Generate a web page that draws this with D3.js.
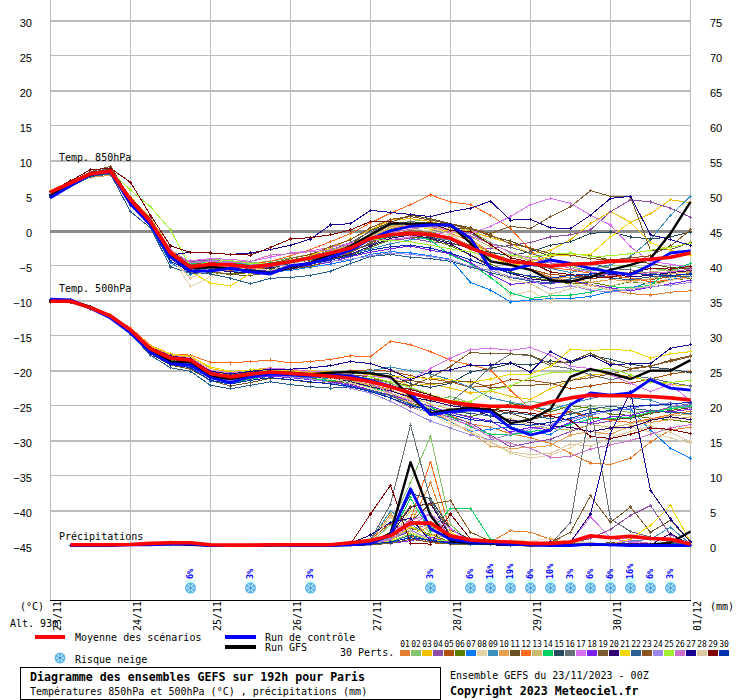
<!DOCTYPE html>
<html><head><meta charset="utf-8"><script src="https://cdn.jsdelivr.net/npm/d3@7"></script>
<style>html,body{margin:0;background:#fff}svg{display:block}text{fill:#000;font-family:"DejaVu Sans Mono",monospace}</style></head><body><div id="c"></div>
<script>
const dates=["23/11","24/11","25/11","26/11","27/11","28/11","29/11","30/11","01/12"];
const tempTicks=[30,25,20,15,10,5,0,-5,-10,-15,-20,-25,-30,-35,-40,-45];
const precipTicks=[75,70,65,60,55,50,45,40,35,30,25,20,15,10,5,0];
const memberColors=["#e67e30","#85c46c","#f0c000","#8e4ea8","#b0500a","#5a7f00","#0a7cff","#e5d4a8","#3a8fbf","#e5a050","#6a4f1f","#ff6a1f","#cdbb70","#00d060","#284a5f","#667078","#d870f0","#7a20f0","#7a5a2f","#300070","#f0d800","#2a6090","#8a5420","#9c88e8","#a0f030","#cc70cc","#1a0090","#dcc8a0","#800000","#0030b0"];
const memberLabels=["01","02","03","04","05","06","07","08","09","10","11","12","13","14","15","16","17","18","19","20","21","22","23","24","25","26","27","28","29","30"];
const snowSteps=[7,10,13,19,21,22,23,24,25,26,27,28,29,30,31];
const snowPct=[6,3,3,3,6,16,19,6,10,3,6,6,16,6,3];

const t850Mean=[5.7,7,8.3,8.7,4.6,1.5,-3,-5,-4.6,-4.7,-5,-4.7,-4.2,-3.7,-3,-2.3,-.9,-.4,-.2,-.4,-.9,-2.3,-3.3,-4.2,-4.5,-4.9,-4.6,-4.5,-4.2,-4.1,-3.9,-3.6,-3];
const t850Control=[4.9,6.6,8.2,8.6,4,1,-3.6,-5.6,-5.6,-5.2,-5.7,-6,-4.8,-4.5,-3.6,-2.6,-1,.2,.8,1,1,-.9,-5.2,-5.4,-4.7,-4,-4.5,-5.2,-5.7,-6.1,-4.7,-3,-2.7];
const t850Gfs=[5.2,6.9,8.4,8.8,4.4,1.2,-3.4,-5.2,-5,-5.2,-5.6,-5.9,-5,-4.4,-3.2,-2,-.4,1.2,1.2,1.2,1,-1.6,-4.2,-4.7,-5.4,-6.9,-7.1,-6.4,-5.4,-4.7,-3.8,-.2,4.3];
const t850=[
[5.6,6.9,8.2,8.7,4.4,1.5,-3.2,-5,-5.2,-5.5,-5.4,-5,-4.5,-4,-3.4,-2.7,-.8,.5,1,.7,-.2,-1.3,-3,-4.6,-5.4,-6.4,-7,-7.6,-8.3,-8.8,-9,-8.6,-8.4],
[5.5,7,8.3,8.8,4.7,1.7,-2.7,-4.3,-3.9,-4.1,-4.4,-4.2,-3.7,-3.2,-2.5,-1.7,-.5,.9,1.5,1.8,1.2,.2,-1.5,-3,-4.2,-3.8,-4.9,-5.6,-4.8,-4.9,-5.2,-5.5,-5],
[5.8,6.8,8.5,8.9,5,2,-2.5,-4.8,-5,-5.3,-5.7,-5.2,-4.1,-3.4,-2.3,-1,.3,1.7,1.9,1.5,.8,.1,-.8,-1.6,-3.2,-2.6,-1.1,1.2,2.9,1.4,2.6,4.6,4.2],
[5.4,7,8.4,8.5,4.5,1.3,-3.1,-4.2,-4,-4.3,-4.9,-5.1,-4.6,-3.8,-3,-2.5,-1.8,-1.2,-.9,-1.4,-1.7,-2.1,-2.4,-1.9,-1.5,-.7,-.4,.3,2.9,4.6,4.3,3.4,2.1],
[5.7,7.1,8.6,8.9,4.8,1.6,-2.9,-5.3,-4.9,-5.1,-5.4,-5.5,-5,-4.2,-3.6,-2.9,-1.6,-.4,.2,-.1,-.8,-1.9,-3.3,-4.8,-5.3,-6.1,-6.2,-6.7,-6.3,-6.6,-6.8,-6.4,-5.9],
[5.5,6.8,8.1,8.4,4.2,1,-3.6,-5.4,-5.8,-6,-5.8,-5.4,-4.9,-4.4,-3.9,-3.3,-2.2,-1.1,-.7,-1,-2,-3.3,-4.6,-5.7,-6.4,-7,-7.4,-7.2,-7.7,-7.1,-7.4,-6.9,-6.6],
[5.3,6.7,8,8.5,3.9,.8,-4.4,-6,-5.5,-5.6,-5.9,-5.7,-5.5,-5,-4.6,-4,-3.2,-2.8,-3,-3.4,-3.9,-7.2,-8.3,-10,-9.7,-9.5,-9.5,-9.2,-8.5,-8,-7.2,-6.8,-6.3],
[5.6,7.1,8.3,8.6,4.3,1.4,-3.4,-7.8,-6.4,-5.3,-5.1,-5.6,-5.2,-4.7,-3.7,-2.6,-1,-.3,.4,.2,-.5,-2.6,-5.7,-9.1,-8.4,-10,-7.3,-8.2,-7.7,-7,-7.4,-6.6,-6.1],
[5.4,6.9,8.3,8.7,4.1,1.1,-3.9,-5.7,-5.2,-5.4,-5.6,-5.5,-4.9,-4.3,-3.7,-3.1,-2.4,-1.7,-1.1,-.8,-1.2,-2.3,-3.6,-4.2,-4.8,-5.2,-5.8,-5.2,-4.7,-3.5,-1.1,2.4,5.1],
[5.7,7.1,7.8,8.1,4.6,1.8,-3,-5.1,-4.6,-4.5,-4.7,-4.9,-4.4,-3.9,-3.2,-2.1,-.3,.8,1.1,1,.3,-1,-2.9,-4.3,-5.5,-6.6,-6.5,-7.2,-6.8,-7,-6.7,-6,-5.6],
[5.6,7,8.5,9,4.9,1.9,-2.8,-4.6,-4.5,-4.6,-4.9,-5.3,-4.8,-4.3,-3.1,-1.8,.2,1.4,2.4,1.9,1.2,.6,-.6,-1.3,-2.4,-3.5,-3.1,-3.4,-4,-4.1,-4.5,-5.1,-5.2],
[5.9,7.2,8.4,8.6,4.7,1.6,-2.6,-5.2,-4.8,-4.7,-4.6,-4.2,-3.4,-2.5,-1.4,-.2,1.3,2.7,3.9,5.3,4.3,3.9,2.4,.5,-2.6,-5.1,-5.4,-5.9,-6.2,-6.6,-7.1,-6.9,-6.3],
[5.5,6.9,8.2,8.8,4.4,1.3,-3.3,-5,-4.7,-4.8,-5.1,-5.1,-4.4,-3.7,-2.9,-2.2,-.6,.6,1.2,.9,.4,-.7,-2.1,-3.4,-4,-4.4,-4.8,-5.1,-5.6,-5.9,-5.7,-5.4,-5.8],
[5.8,7,8.2,8.7,4.2,1,-3.7,-4.5,-4.3,-4.4,-4.7,-4.4,-4,-3.5,-2.8,-2.1,-1.3,-.7,-.3,-1.2,-3.3,-4.5,-6.5,-8.7,-9.5,-9.1,-9,-8.6,-7.8,-8,-7.6,-5.4,-4.5],
[5.2,6.7,8.2,8.6,4,.9,-3.9,-5.5,-5.1,-5.3,-5.5,-5.2,-4.5,-4,-3.3,-2.7,-1.8,-.6,-.1,-.7,-1.5,-2.4,-2.9,-3.4,-2.8,-1.9,-1.4,-.2,0,-.7,-1,-.7,0],
[5.6,6.9,8.4,9.2,4.5,1.3,-3.2,-4.9,-4.5,-4.7,-5,-5,-4.2,-3.5,-2.6,-1.5,.1,1.1,1.5,1.2,.7,-.2,-1.7,-2.2,-3,-4,-4.8,-4.4,-5.2,-5.4,-5.9,-6.2,-6.5],
[5.5,6.8,8.2,8.5,4.3,1.2,-3.5,-4.1,-3.8,-3.9,-4.2,-3.6,-3,-2.7,-2.2,-1.6,-1.2,-1.1,-.7,-.4,0,-.2,.8,2.2,3.9,4.8,4.1,2.4,1,-2.1,-4.2,-4.6,-5],
[5.4,6.9,8.3,8.7,4.6,1.7,-3.1,-5.5,-5.4,-5,-5.2,-5.6,-5.1,-4.8,-4.3,-3.5,-2.9,-2.4,-2,-2.6,-3.1,-4.4,-6,-7.5,-7.2,-7.4,-6.9,-7.5,-8,-8.4,-7.9,-7.4,-6.9],
[5.6,7.1,8.6,9.4,4.8,1.4,-3.3,-5.8,-5.6,-6.1,-6.2,-5.8,-5.3,-4.9,-4,-3,-1.5,-.1,.9,1.4,.6,.5,-.2,.8,.5,2.2,3.6,5.9,5.1,5,-2.6,-2.5,-1.5],
[5.7,7,8.2,8.6,4.1,1.2,-3.8,-5.9,-5.3,-5.7,-5.8,-5.1,-5.3,-4.6,-3.8,-3.2,-2,-.9,-.4,-.9,-1.7,-3.3,-4.9,-5.9,-6.7,-7,-7.2,-6.5,-6,-6.4,-6.2,-5.8,-5.5],
[5.9,7,8.3,8.9,4.7,1.7,-2.9,-5.7,-7.3,-7.7,-5.9,-5.8,-5.1,-4.4,-3.6,-2.4,-.8,.4,.9,.4,.2,-1.1,-3.5,-4.8,-4.3,-3.4,-3.3,-3.2,-.7,1.4,-1.5,-2.6,-3.3],
[5,6.5,7.9,8.3,2.9,.6,-5,-5.9,-6,-6.6,-7.4,-6.6,-6.5,-6.2,-5.6,-4.5,-3.5,-3.2,-3.6,-3.8,-4.2,-5,-5.8,-6.5,-7,-7.3,-6.7,-6.1,-6.6,-6.8,-6.4,-6.3,-6.4],
[5.6,7,8.3,8.5,4.5,1.4,-3,-4.7,-4.4,-4.5,-4.8,-4.5,-3.8,-3.2,-2.1,-1.1,.6,1.8,2.2,1.7,1.1,.4,-.4,-1.7,-2.3,-3.1,-3.3,-3.8,-4,-3.7,-3.4,-2,.3],
[5.5,6.8,8.1,8.6,4.4,1.3,-3.4,-4.4,-4.1,-4.2,-4.6,-4.8,-4.8,-4.5,-4.2,-3.9,-3.4,-3,-3.2,-3.5,-4,-4.9,-5.5,-6.4,-6.8,-8.1,-7.7,-8.3,-8.6,-8.2,-7.8,-7.6,-7.2],
[5.7,6.9,8.2,8.7,6,3.6,.3,-5,-4.2,-4.1,-4.5,-4.6,-4,-3.6,-2.7,-1.9,-1.1,-1.2,-1.4,-1.9,-2.4,-2.8,-3.7,-3.3,-3.6,-3.2,-3,-3.5,-3.4,-3.1,-2.6,-2.2,-1.6],
[5.6,7.1,8.5,8.8,4.7,1.8,-2.5,-4.4,-4.2,-4.4,-4.2,-3.3,-3.1,-2.8,-2.6,-1.7,-.9,-.1,.4,.8,.2,-.6,-1.6,-2.9,-3.8,-4.4,-5.2,-5.7,-6.2,-6.1,-5.8,-5.7,-5.3],
[5.4,6.9,8.2,8.6,4.4,1.5,-3.3,-2.9,-3,-3.2,-3,-2.5,-1.9,-1,1,1.2,3.1,2.8,2.5,2.2,2.9,3.4,4.4,1.7,1.8,.6,.5,2.4,4.8,5.1,-.4,-1.1,-1.9],
[5.6,7,8.2,8.7,4.1,1.1,-3.7,-6.6,-5.1,-4.8,-5.2,-5.5,-4.6,-3.9,-2.9,-1.9,-.7,.3,.7,.6,-.3,-2.2,-5,-6.8,-7.4,-8.9,-8.1,-7.5,-8.3,-8.1,-7.7,-6.9,-6.5],
[5.8,7.3,8.9,9.1,7.1,2.4,-2,-2.9,-3,-3.2,-3.3,-2.2,-1,-.8,-.4,.3,1.5,1.5,1,1.3,.2,.1,-1.8,-3.7,-4.3,-5.7,-6.1,-6.4,-6.5,-5.8,-5.2,-5.3,-4.9],
[5.1,6.6,8.1,8.5,3.8,.9,-4.2,-5.6,-5.4,-5.2,-5.4,-5.7,-5,-4.6,-4,-3.4,-2.6,-2.1,-1.9,-2.3,-3,-4,-5,-5.9,-6.3,-6.6,-6.2,-6,-5.9,-5.9,-6.1,-6.2,-6]
];

const t500Mean=[-9.9,-9.9,-10.8,-12,-14,-16.7,-18,-18.3,-20.2,-20.7,-20.3,-20,-20.2,-20.4,-20.6,-20.9,-21.4,-22.1,-23,-23.7,-24.3,-24.7,-24.9,-24.9,-25.1,-24.3,-23.7,-23.3,-23.4,-23.4,-23.5,-23.7,-24];
const t500Control=[-9.6,-9.7,-10.9,-12.3,-14.4,-17.2,-18.8,-19,-20.8,-21.5,-20.7,-20.3,-20.4,-20.6,-20.5,-20.6,-21.2,-22,-23,-26.1,-25.7,-25.4,-25.7,-28,-29,-28.3,-24.7,-23,-23.3,-23,-21.1,-22.3,-22.6];
const t500Gfs=[-9.8,-9.8,-10.7,-12.1,-14.2,-17,-18.5,-18.6,-20.6,-21,-20.5,-20.2,-20.1,-20.3,-20.1,-20,-20.2,-20.7,-23.5,-25.9,-25.4,-25.2,-25.4,-27.3,-26.8,-25.3,-20.7,-19.6,-20.2,-21,-19.8,-19.8,-18.3];
const t500=[
[-9.9,-10,-10.9,-12,-14,-16.6,-17.8,-18.2,-20,-20.4,-20.1,-19.8,-20.2,-20.5,-20.9,-21.3,-21.8,-22.5,-23.8,-25,-26.2,-27.4,-27.9,-28.8,-29.4,-30.2,-31.6,-33,-33.2,-32.3,-30,-28.3,-27.9],
[-9.8,-9.9,-10.7,-11.9,-13.8,-16.5,-17.6,-18,-19.9,-20.4,-19.9,-19.6,-19.7,-19.9,-20.1,-20.5,-21,-21.6,-22.8,-24.2,-23.5,-24.4,-25.5,-24.8,-24.2,-24.6,-25.4,-24.9,-25.3,-25.8,-25.6,-25.2,-24.8],
[-9.9,-10,-10.9,-12,-13.9,-16.4,-17.5,-17.7,-19.5,-20,-20,-19.9,-19.7,-19.8,-20,-20.1,-20.4,-20.9,-22,-21.7,-22.3,-23,-22.7,-23.5,-23.9,-22.4,-21.2,-20.4,-20.2,-20.7,-21.3,-21.8,-22],
[-9.8,-9.9,-10.8,-12,-14.1,-16.8,-18,-18.5,-20.4,-21.1,-20.6,-20.1,-20.5,-20.9,-21.3,-21.7,-22.6,-23.7,-25,-25.9,-26.4,-27.3,-29,-30.7,-30.1,-29.6,-28.5,-27.5,-27,-26.4,-25.8,-25,-24.5],
[-10,-10.1,-10.8,-12.2,-14.3,-17,-18.3,-18.7,-20.1,-20.7,-20.4,-20,-20.2,-20.5,-20.3,-19.8,-19.7,-19.9,-20.5,-21,-21.4,-22.2,-21.9,-21.1,-21.2,-21.6,-22.4,-22,-21.5,-21.6,-21,-20.3,-19.9],
[-9.7,-9.9,-10.7,-12.1,-14.2,-17,-18.4,-18.8,-20.5,-20.9,-20.7,-20.4,-20.6,-20.9,-21.2,-21.6,-22.2,-23,-24.4,-25.3,-25.8,-26.4,-25.6,-24.5,-24.9,-25.7,-24.8,-25.2,-26,-26.2,-26.6,-26.8,-27.2],
[-9.6,-9.7,-10.6,-12,-14.3,-17.4,-19,-19.3,-21.3,-21.7,-21,-20.5,-20.7,-21,-21.4,-22,-22.7,-23.4,-24.7,-25.9,-27.1,-28.5,-28.2,-27.8,-28.7,-28.9,-27.2,-26.2,-25.5,-25.3,-28.3,-30.9,-32.3],
[-9.9,-9.9,-10.8,-12,-14,-16.6,-17.9,-18.3,-20.3,-20.9,-20.4,-20.1,-20.4,-20.7,-21.1,-21.6,-22.3,-23.5,-24.8,-26,-27.5,-28.2,-30,-31.6,-32.3,-31.9,-30.8,-29.4,-28.2,-27.8,-28.6,-29.4,-30.2],
[-9.8,-9.9,-10.7,-12,-14.1,-16.9,-18.1,-18.6,-20.5,-21,-20.5,-20.3,-20.6,-20.8,-20.9,-20.4,-19.8,-19.3,-19.8,-20.3,-21.1,-22.2,-23.7,-24.3,-24.9,-25.4,-24.5,-23.8,-23.2,-23.7,-24,-25,-24.7],
[-10,-10,-10.9,-12.1,-14,-16.4,-17.6,-17.9,-19.8,-20.2,-19.7,-19.4,-19.7,-20,-20.4,-21,-22,-23.3,-24.4,-25.7,-27,-28.7,-30.6,-30.9,-30.8,-30.5,-29,-28.5,-28.9,-27.7,-27.2,-26.8,-26.4],
[-9.9,-10,-10.8,-12,-14,-16.7,-18,-18.4,-20.2,-20.6,-20.1,-19.8,-20,-20.2,-20.5,-20.7,-21.3,-22,-23.2,-23.8,-24.5,-25.1,-25.4,-25.9,-26.8,-26.2,-25.6,-26.4,-26.8,-26.6,-25.9,-25.5,-25.1],
[-9.8,-9.9,-10.7,-11.9,-13.7,-16.2,-17.4,-17.6,-18.6,-18.7,-18.5,-18.3,-18.7,-18.5,-18.2,-17.7,-17.8,-15.6,-16.1,-17.1,-18.3,-19,-19.7,-22.6,-25.3,-26.1,-25.8,-26.4,-26.9,-27.2,-26.7,-26.1,-25.6],
[-9.9,-9.9,-10.8,-12.1,-14.1,-16.8,-18.1,-18.5,-20.4,-20.8,-20.3,-20.1,-20.2,-20.5,-20.8,-21.3,-21.9,-22.6,-23.5,-24.6,-25.3,-25.9,-26.3,-26.7,-27.6,-28.1,-28.3,-27.5,-27.9,-27.4,-26.8,-26.3,-26],
[-9.7,-9.8,-10.8,-12.1,-14.3,-17.2,-18.9,-19.1,-20.9,-21.6,-21,-20.6,-20.8,-21,-21.2,-21.5,-22.2,-23,-24,-25,-26.4,-27.8,-28.9,-29,-28.5,-28.2,-27.5,-26.7,-26.6,-26.5,-25.7,-25.3,-24.9],
[-9.8,-9.9,-10.8,-12,-14.1,-16.8,-18,-18.4,-20.1,-20.5,-20,-19.8,-20,-20.3,-20.4,-20.3,-20.1,-20.3,-21.7,-22.2,-21.6,-20,-19.5,-18.8,-19,-18.4,-18.7,-17.6,-18.2,-18.9,-19.3,-19.6,-20.1],
[-9.9,-10,-10.9,-12.1,-14,-16.5,-17.8,-18.1,-20,-20.5,-20.1,-19.9,-20.1,-20.4,-20.6,-21,-21.4,-22.2,-22.4,-23.2,-24.3,-22,-19.3,-17.4,-17.7,-19.1,-19.5,-20.4,-21.1,-20.5,-20.9,-21.5,-22],
[-9.9,-10,-10.8,-12,-13.9,-16.5,-17.7,-18,-19.8,-20.1,-19.8,-19.5,-19.6,-19.9,-20.1,-20.4,-20.6,-20.9,-21.1,-19.5,-18,-16.8,-16.6,-16.9,-16.5,-17.6,-19.2,-19.5,-20.4,-21.6,-22.8,-21.7,-24.2],
[-9.8,-9.9,-10.7,-12,-14.3,-17.1,-18.6,-19,-20.9,-21.4,-20.9,-20.6,-20.8,-21.1,-21.4,-21.9,-22.6,-23.3,-24.1,-24.9,-25.8,-26.5,-27,-28.6,-27.9,-28.3,-27.2,-27.3,-26.4,-26.2,-25.5,-25.7,-25.3],
[-10,-10.1,-11,-12.3,-14.5,-17.4,-19,-19.6,-21.2,-22,-21.5,-20.9,-21.1,-21.5,-21.4,-21.2,-21,-21.4,-22,-20.8,-19.2,-17.2,-17.4,-17.4,-17.6,-18.8,-18.5,-17.3,-18.7,-19.5,-19.1,-18.5,-17.8],
[-9.9,-10,-10.8,-12,-14,-16.6,-17.9,-18.4,-20.3,-20.7,-20.2,-20,-20.3,-20.6,-20.9,-21.4,-22.1,-22.7,-23.6,-24.1,-24.8,-25.2,-26.3,-26.9,-27.2,-27.7,-27.9,-28.5,-28,-27.9,-26.9,-26.4,-26.8],
[-9.8,-9.9,-10.7,-11.8,-13.8,-16.3,-17.4,-17.8,-19.3,-19.9,-19.7,-19.7,-19.9,-20.1,-20,-20.1,-20.3,-20.6,-20.8,-20.9,-21.1,-21.5,-21,-20.3,-20.3,-19.2,-16.8,-16.9,-16.8,-16.9,-18,-17.4,-17.1],
[-9.7,-9.8,-10.9,-12.3,-14.6,-17.6,-19.4,-19.9,-21.9,-22.4,-21.9,-21.4,-21.8,-22.1,-22.3,-22.2,-22.6,-23.4,-24.6,-25.5,-25.7,-25.9,-26.3,-25.8,-26.1,-26.7,-26,-25.3,-24.9,-25.2,-25.5,-25.8,-25.9],
[-9.9,-10,-10.9,-12.1,-14,-16.7,-18,-18.5,-20.1,-20.5,-20.1,-19.9,-20.1,-20.3,-20.4,-20.4,-20.7,-21.5,-21.2,-21.7,-21.5,-21.3,-22.3,-22,-21.9,-21.7,-21.2,-20.8,-20.3,-19.6,-19.2,-18.3,-17.7],
[-9.9,-9.9,-10.8,-12,-14,-16.8,-18.2,-18.7,-20.7,-21.2,-20.7,-20.4,-20.7,-21,-21.5,-22.3,-23,-24.2,-25.6,-27,-28,-29,-29.7,-28.9,-28.2,-27.5,-26.8,-26.1,-25.6,-25.2,-24.7,-24.4,-25.2],
[-9.8,-9.9,-10.8,-12,-14.2,-17,-18.3,-18.8,-20.2,-20.3,-19.8,-19.7,-20,-20.5,-20.8,-20.8,-20.7,-21.4,-22.2,-23.2,-24.1,-24.2,-22.6,-22,-20.8,-20.1,-20,-19.7,-19.5,-20.4,-21.5,-21.5,-21.2],
[-9.9,-10,-10.9,-12.1,-14.1,-16.7,-18,-18.3,-20.4,-20.9,-20.3,-20.1,-20.4,-20.6,-20.7,-20.9,-21.6,-23,-24.1,-25.2,-26.7,-27.6,-29.3,-30.2,-30.9,-32.2,-32.1,-31,-30.4,-29.8,-28.9,-28,-27.5],
[-9.8,-9.9,-10.8,-11.9,-13.9,-16.5,-17.7,-18.1,-19.9,-20.3,-19.9,-19.6,-19.6,-19.4,-19.1,-18.5,-18.8,-19.7,-21.1,-20,-19.7,-19,-19,-18.7,-20,-17.1,-18.5,-17.6,-19,-18.8,-18.8,-16.6,-16.1],
[-9.9,-10,-10.9,-12,-14,-16.7,-18,-18.5,-20.2,-20.6,-20.2,-20,-20.2,-20.5,-20.9,-21.5,-22.3,-23.1,-23.9,-25.2,-27,-28.6,-30,-31.4,-31.8,-31.6,-30.3,-30.6,-29.4,-28.5,-27.7,-28.6,-30],
[-9.9,-10,-10.8,-12.1,-14.2,-16.9,-18.2,-18.4,-20.3,-20.6,-20.2,-20,-20.1,-20.4,-20.8,-21,-21.3,-22,-22.5,-23.3,-24.2,-25,-25.3,-25.6,-25.9,-26.3,-26.9,-29.2,-29.5,-28.9,-28,-28.2,-28.8],
[-9.7,-9.8,-10.7,-12.1,-14.4,-17.3,-18.9,-19.4,-21.2,-21.7,-21.2,-20.8,-21.1,-21.4,-21.7,-22.1,-22.8,-23.7,-24.8,-25.4,-26.1,-26.8,-27.1,-27.5,-27.6,-27.2,-26.6,-25.8,-25.5,-24.9,-24.8,-24.6,-24.3]
];

const precipMean=[.1,.1,.1,.15,.3,.4,.4,.1,.05,.05,.1,.1,.1,.1,.4,.7,1.4,3.2,3.2,1.4,.8,.6,.5,.3,.3,.5,1.4,1.1,1.3,1,.9,.2];
const precipControl=[0,0,0,.1,.1,.2,.2,0,0,0,.1,0,0,0,.1,.3,1.5,8.1,2.4,.9,.5,.4,.2,.1,0,0,.2,.1,0,0,0,0];
const precipGfs=[0,0,.1,.1,.1,.2,.1,0,0,0,0,.1,0,0,.1,.2,1.7,11.9,4.3,.6,.4,.3,.2,0,.1,.1,.1,.1,.1,.1,.4,2];
const precip=[
[0,0,0,.1,.2,.4,.3,.1,0,0,0,0,0,0,.1,.3,1.3,3,9,.8,.5,.5,2.1,1.9,.9,.2,.3,.2,.3,.3,.2,.1],
[0,0,0,.1,.1,.3,.2,0,0,0,0,0,0,0,.2,.4,3,9,15.6,3,.4,.3,.2,.1,0,0,0,.1,.1,0,0,0],
[0,.1,.1,.1,.2,.2,.3,0,0,.1,.1,0,0,0,.1,.5,1.1,3.8,1.2,.6,.3,.1,.1,0,0,.2,.1,.1,.3,.2,.1,0],
[0,0,0,0,.1,.2,.2,.1,0,0,0,0,.1,0,0,.1,.8,2.1,3.2,1,.3,.2,.1,.1,0,.3,1,2.3,4.3,5.7,1.5,.2],
[0,0,0,.1,.3,.6,.4,.1,0,0,0,0,0,0,.3,.9,3.2,1.4,.4,.2,.1,.1,0,0,0,0,0,.1,0,.1,.2,0],
[0,0,0,.1,.2,.3,.4,0,0,0,.1,.1,0,0,.1,.2,.7,2.5,1.6,.5,.8,.8,.4,.1,0,0,.1,0,.1,.1,.1,0],
[0,0,.1,.1,.1,.1,.1,0,0,0,0,0,0,0,.1,.1,.4,1.2,.7,.3,.2,.1,0,.1,0,0,.1,.1,.2,.2,.3,0],
[0,0,0,0,.1,.2,.2,.1,0,0,0,0,0,0,.5,1,4,1.2,.4,.5,.6,.6,.8,.6,1.1,.5,.4,.2,.1,.2,.1,0],
[0,0,0,.1,.1,.3,.2,0,0,0,0,0,0,.1,.4,.8,4.9,3.1,1.2,.3,.2,.2,.1,0,0,.1,.1,.2,.6,.9,2.6,.2],
[0,.1,.1,.2,.3,.5,.4,.1,0,0,0,0,0,0,.2,.6,4.5,1.5,2.8,1.1,.5,.3,.2,.1,.1,.1,0,0,0,.1,.1,0],
[0,0,0,.1,.2,.3,.3,0,0,0,0,.1,.1,0,0,.2,.9,3.4,6,2.2,.9,.3,.1,0,0,0,.2,.4,.2,.1,.1,0],
[0,0,.1,.1,.2,.3,.2,.1,0,0,0,0,0,0,.1,.2,.9,3.8,11.9,1.9,.4,.3,.3,.2,.1,0,0,0,.1,0,.1,.1],
[0,0,0,.1,.1,.2,.2,0,0,0,0,0,0,0,.1,.3,1,5,1.7,.9,.4,.2,.1,.1,.2,.3,.2,.1,0,.1,.1,0],
[0,0,0,0,.1,.2,.1,0,0,.1,0,0,0,0,.1,.2,1.2,6.8,2,5.3,5.3,.9,.4,.2,.1,0,0,.1,.1,.2,.1,0],
[0,0,.1,.1,.2,.3,.2,0,0,0,0,0,0,0,.2,.5,1.6,7.4,6.7,2.4,.7,.3,.2,.1,0,0,.1,.1,.1,.2,.3,.1],
[0,0,0,.1,.1,.2,.2,0,0,0,0,0,0,0,.2,.8,5.9,17.2,6.5,1.5,.4,.2,.2,.1,.2,3.3,20,3.8,2,1.2,.5,.1],
[0,0,0,.1,.2,.4,.3,.1,0,0,0,0,0,0,.1,.3,1.8,3.6,4.5,2.4,.5,.3,.1,0,0,.5,4.1,1.1,.4,.3,.2,.1],
[0,.1,.1,.1,.1,.2,.2,0,0,0,0,0,0,0,0,.1,.3,.7,1.2,.4,.2,.1,.1,0,0,.1,.1,.1,.3,.2,.1,0],
[0,0,0,.1,.1,.3,.2,0,0,0,0,0,0,0,.1,.1,.3,.9,.5,.2,.1,.1,.1,.2,.4,1.9,7.1,3.3,5.5,1.9,3.6,.5],
[0,0,0,.1,.2,.3,.3,0,0,0,.1,0,0,0,.1,.4,1.4,5.5,6,1.3,.5,.3,.2,.1,0,0,.1,0,0,.1,1.7,.1],
[0,0,.1,.1,.2,.2,.2,0,0,0,0,0,0,0,.1,.3,.6,2.7,1.4,1.9,.5,.3,.2,.1,0,.1,.1,.2,.9,2.9,5.7,.5],
[0,0,0,.1,.1,.2,.1,0,0,0,0,0,0,.1,.1,.2,.5,1.5,.7,.3,.2,.1,0,0,.1,.1,.2,.2,.1,.2,.3,.1],
[0,0,0,.1,.2,.3,.3,.1,0,0,0,0,0,0,.2,.5,1.9,5.6,5.9,6.4,1.9,.6,.3,.1,0,0,0,.1,.1,.1,.1,0],
[0,0,0,0,.1,.2,.1,0,0,0,0,0,.1,0,.1,.3,1,2.2,.9,.6,.3,.1,.1,0,0,.1,.1,.1,.2,.1,.1,0],
[0,.1,.1,.1,.2,.3,.2,0,0,0,0,0,0,0,.1,.2,.6,1.7,.8,.7,.4,.2,.1,.1,.1,0,.1,.1,.1,.1,.2,0],
[0,0,0,.1,.1,.2,.2,.1,0,0,0,0,0,0,.1,.3,.8,2.9,4.5,1.4,.6,.4,.2,.1,0,0,.3,.2,.7,.3,.2,.1],
[0,0,0,.1,.1,.3,.2,0,0,0,0,0,0,0,.3,1.5,3.3,3.9,.7,.4,.2,.1,0,0,.5,.5,4.5,16,22,7.9,3.8,.5],
[0,0,0,.1,.1,.2,.2,0,0,0,0,.1,0,0,.1,.2,4.1,2,.8,.3,.2,.2,.5,.2,.3,.7,.4,.2,.1,.1,.2,0],
[0,0,.1,.1,.2,.3,.2,.1,0,0,0,0,0,0,.2,4.5,8.6,.3,.2,4.5,.9,.3,.1,.1,0,0,.1,.1,.1,.1,.1,0],
[0,0,0,.1,.1,.2,.2,0,0,0,0,0,0,0,.1,.2,.5,1.1,.8,.3,.2,.1,.1,0,0,0,.1,.1,.1,.1,.1,0]
];

const W=740,H=700;
const x=d3.scaleLinear().domain([0,32]).range([50,690]);
const y=d3.scaleLinear().domain([30,-45]).range([22,547]);
const yP=d3.scaleLinear().domain([75,0]).range([20.5,545.5]);
const svg=d3.select("#c").append("svg").attr("width",W).attr("height",H);
const gridColor="#bcbcbc";

// grid
const grid=svg.append("g").attr("shape-rendering","crispEdges");
d3.range(0,33,4).forEach(i=>grid.append("line").attr("x1",x(i)+.5).attr("x2",x(i)+.5).attr("y1",0).attr("y2",600).attr("stroke",gridColor));
tempTicks.forEach(t=>{
  if(t===-45)return;
  const thick=t%10===0;
  const yy=y(t)-(thick?1:1.5);
  grid.append("line").attr("x1",50).attr("x2",691).attr("y1",yy).attr("y2",yy)
    .attr("stroke",t===0?"#8c8c8c":gridColor).attr("stroke-width",t===0?3:(thick?2:1));
});
grid.append("line").attr("x1",50).attr("x2",691).attr("y1",600.5).attr("y2",600.5).attr("stroke","#000");

// axes
function styleAxis(g){g.select(".domain").remove();g.selectAll("text").attr("dy",4).style("font-family","'Liberation Sans',Arial,sans-serif").style("font-size","11px").attr("fill","#000");}
svg.append("g").attr("transform","translate(32,0)").call(d3.axisLeft(y).tickValues(tempTicks).tickSize(0).tickPadding(0).tickFormat(d3.format("d"))).call(styleAxis);
const yLab=y.copy().domain([75,0]);
svg.append("g").attr("transform","translate(710,0)").call(d3.axisRight(yLab).tickValues(precipTicks).tickSize(0).tickPadding(0).tickFormat(d3.format("d"))).call(styleAxis);

// lines
const lineT=d3.line().x((d,i)=>x(i)+.5).y(d=>y(d));
const lineP=d3.line().x((d,i)=>x(i+1)+.5).y(d=>yP(d));
const marks=svg.append("g");
function drawSeries(data,line,col,w,xi){
  marks.append("path").attr("d",line(data)).attr("fill","none").attr("stroke",col).attr("stroke-width",w).attr("stroke-linejoin","round").attr("shape-rendering",w===1?"crispEdges":"auto");
  if(w===1){
    const s=d3.symbol().type(d3.symbolCross).size(6)();
    marks.append("g").selectAll("path").data(data).join("path").attr("d",s).attr("fill",col).attr("shape-rendering","crispEdges")
      .attr("transform",(d,i)=>`translate(${xi(i)},${line===lineT?y(d):yP(d)})`);
  }
}
const xiT=i=>x(i)+.5, xiP=i=>x(i+1)+.5;
t850.forEach((s,m)=>drawSeries(s,lineT,memberColors[m],1,xiT));
t500.forEach((s,m)=>drawSeries(s,lineT,memberColors[m],1,xiT));
precip.forEach((s,m)=>drawSeries(s,lineP,memberColors[m],1,xiP));
[[t850Gfs,lineT],[t500Gfs,lineT],[precipGfs,lineP]].forEach(a=>drawSeries(a[0],a[1],"#000",2.4,null));
[[t850Control,lineT],[t500Control,lineT],[precipControl,lineP]].forEach(a=>drawSeries(a[0],a[1],"#0000ff",2.8,null));
[[t850Mean,lineT],[t500Mean,lineT],[precipMean,lineP]].forEach(a=>drawSeries(a[0],a[1],"#ff0000",3.6,null));

// snow
function flake(g,cx,cy){
  g.append("circle").attr("cx",cx).attr("cy",cy).attr("r",5.5).attr("fill","#62b6e6");
  [0,60,120].forEach(a=>{const r=a*Math.PI/180,dx=4.5*Math.cos(r),dy=4.5*Math.sin(r);
    g.append("line").attr("x1",cx-dx).attr("x2",cx+dx).attr("y1",cy-dy).attr("y2",cy+dy).attr("stroke","#d4f2fb").attr("stroke-width",1);});
  g.append("circle").attr("cx",cx).attr("cy",cy).attr("r",1.2).attr("fill","#2f7fd0");
}
const snow=svg.append("g");
snowSteps.forEach((s,k)=>{
  const cx=x(s)+.5;
  snow.append("rect").attr("x",cx-5).attr("width",10).attr("y",583-(1+snowPct[k]*.3)).attr("height",1+snowPct[k]*.3).attr("fill","#ccffff");
  flake(snow,cx,588);
  snow.append("text").attr("transform",`translate(${cx+2.5},579) rotate(-90)`).text(snowPct[k]+"%").style("font-size","8.5px").style("font-weight","bold").style("fill","#0000ff");
});

// date labels
dates.forEach((d,k)=>svg.append("text").attr("transform",`translate(${x(k*4)+11},631) rotate(-90)`).text(d).style("font-size","10px"));

const txt=(s,tx,ty,size,bold)=>svg.append("text").attr("x",tx).attr("y",ty).text(s).style("font-size",size+"px").style("font-weight",bold?"bold":"normal");
txt("Temp. 850hPa",59,161,10);
txt("Temp. 500hPa",59,292,10);
txt("Précipitations",59,540,10);
txt("(°C)",20,610,10);
txt("(mm)",710,610,10);
txt("Alt. 93m",10,627,10);
txt("Moyenne des scénarios",75,641,10);
txt("Run de contrôle",265,641,10);
txt("Run GFS",265,651,10);
txt("Risque neige",75,663,10);
txt("30 Perts.",340,656,10);
[[35,65,637,"#ff0000"],[225,256,637,"#0000ff"],[225,256,647,"#000"]].forEach(a=>svg.append("line").attr("x1",a[0]).attr("x2",a[1]).attr("y1",a[2]).attr("y2",a[2]).attr("stroke",a[3]).attr("stroke-width",4).attr("shape-rendering","crispEdges"));
flake(svg.append("g"),60,658);

// member legend
memberLabels.forEach((l,i)=>{
  svg.append("rect").attr("x",400+i*11).attr("y",650).attr("width",10).attr("height",6).attr("fill",memberColors[i]);
  svg.append("text").attr("x",405+i*11).attr("y",647).attr("text-anchor","middle").text(l).style("font-size","8px");
});

svg.append("rect").attr("x",20.5).attr("y",667.5).attr("width",420).attr("height",32).attr("fill","none").attr("stroke","#000").attr("shape-rendering","crispEdges");
txt("Diagramme des ensembles GEFS sur 192h pour Paris",30,681,11.6,true);
txt("Températures 850hPa et 500hPa (°C) , précipitations (mm)",30,695,10);
txt("Ensemble GEFS du 23/11/2023 - 00Z",450,679,10);
txt("Copyright 2023 Meteociel.fr",450,695,11.6,true);
</script></body></html>
